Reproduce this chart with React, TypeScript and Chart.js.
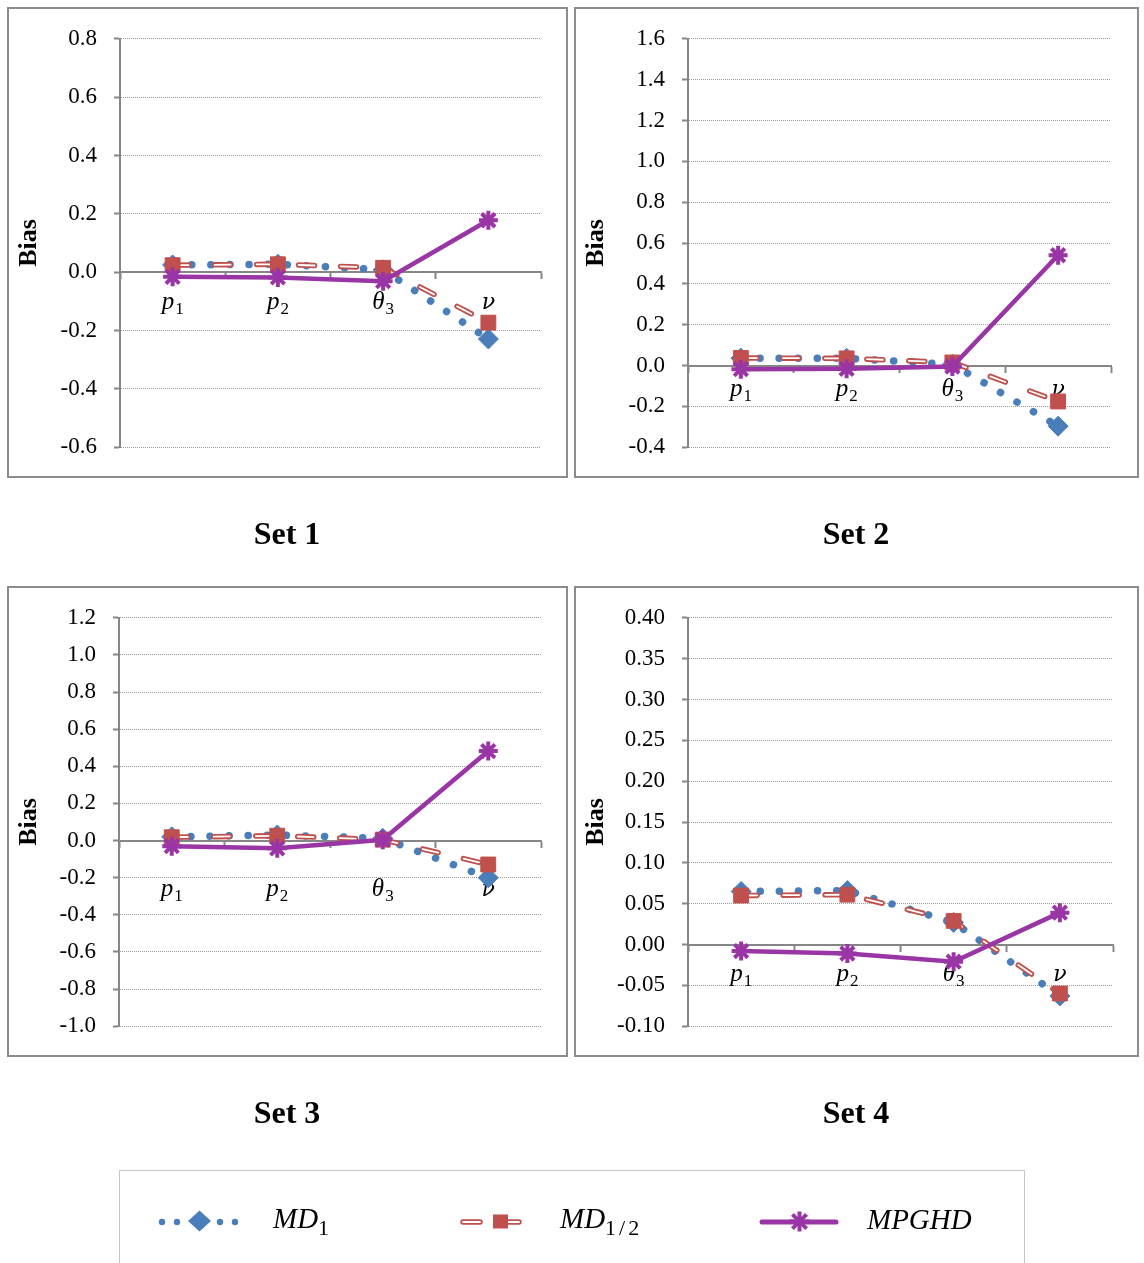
import React, { useEffect, useRef } from 'react';
import { Chart, registerables } from 'chart.js';

Chart.register(...registerables);

// ---------- data ----------
const categoryLabels = ['p1', 'p2', 'θ3', 'ν'];
const categoryLetters = ['p', 'p', 'θ', 'ν'];
const categorySubscripts = ['1', '2', '3', ''];

const setTitles = ['Set 1', 'Set 2', 'Set 3', 'Set 4'];

const set1MD1 = [0.025, 0.027, 0.008, -0.229];
const set1MDHalf = [0.024, 0.027, 0.015, -0.173];
const set1MPGHD = [-0.016, -0.018, -0.031, 0.178];

const set2MD1 = [0.036, 0.035, 0.006, -0.297];
const set2MDHalf = [0.037, 0.035, 0.015, -0.176];
const set2MPGHD = [-0.018, -0.016, -0.005, 0.54];

const set3MD1 = [0.02, 0.03, 0.012, -0.2];
const set3MDHalf = [0.018, 0.026, 0.005, -0.129];
const set3MPGHD = [-0.03, -0.042, 0.004, 0.482];

const set4MD1 = [0.065, 0.066, 0.027, -0.063];
const set4MDHalf = [0.06, 0.061, 0.029, -0.06];
const set4MPGHD = [-0.008, -0.011, -0.021, 0.039];

const yMins = [-0.6, -0.4, -1.0, -0.1];
const yMaxs = [0.8, 1.6, 1.2, 0.4];
const ySteps = [0.2, 0.2, 0.2, 0.05];
const yDecimals = [1, 1, 1, 2];

const allMD1 = [set1MD1, set2MD1, set3MD1, set4MD1];
const allMDHalf = [set1MDHalf, set2MDHalf, set3MDHalf, set4MDHalf];
const allMPGHD = [set1MPGHD, set2MPGHD, set3MPGHD, set4MPGHD];

// ---------- layout / style ----------
const BLUE = '#4A7EBB';
const RED = '#C0504D';
const PURPLE = '#9A35A6';
const AXIS = '#868686';
const GRID = '#9a9a9a';
const SERIF = '"Liberation Serif", "Times New Roman", serif';
const GREEK = '"DejaVu Serif", "Liberation Serif", serif';

const panels = [
  { x: 8, y: 8, w: 560, h: 470, left: 120, right: 541, top: 38, bottom: 448, labelOffset: 37, titleY: 544 },
  { x: 575, y: 8, w: 564, h: 470, left: 688, right: 1111, top: 38, bottom: 448, labelOffset: 30, titleY: 544 },
  { x: 8, y: 587, w: 560, h: 470, left: 119, right: 541, top: 617, bottom: 1027, labelOffset: 55, titleY: 1123 },
  { x: 575, y: 587, w: 564, h: 470, left: 688, right: 1113, top: 617, bottom: 1027, labelOffset: 36, titleY: 1123 },
];

function makeCategoryPlugin(offset: number) {
  return {
    id: 'categoryLabels',
    beforeDatasetsDraw(chart: any) {
      const { ctx } = chart;
      const xs = chart.scales.x;
      const ys = chart.scales.y;
      const base = ys.getPixelForValue(0) + offset;
      ctx.save();
      ctx.fillStyle = '#000';
      ctx.textBaseline = 'alphabetic';
      ctx.textAlign = 'left';
      categoryLetters.forEach((letter, i) => {
        const x = xs.getPixelForValue(i);
        const sub = categorySubscripts[i];
        const mainFont = letter === 'ν' ? `italic 22px ${GREEK}` : `italic 25px ${SERIF}`;
        ctx.font = mainFont;
        const w1 = ctx.measureText(letter).width;
        ctx.font = `17px ${SERIF}`;
        const w2 = sub ? ctx.measureText(sub).width + 1 : 0;
        const start = x - (w1 + w2) / 2;
        ctx.font = mainFont;
        ctx.fillText(letter, start, base);
        if (sub) {
          ctx.font = `17px ${SERIF}`;
          ctx.fillText(sub, start + w1 + 1, base + 5);
        }
      });
      ctx.restore();
    },
  };
}

function Panel({ idx }: { idx: number }) {
  const ref = useRef<HTMLCanvasElement>(null);
  const p = panels[idx];
  useEffect(() => {
    const canvas = ref.current;
    if (!canvas) return;
    const yAxisWidth = p.left - p.x;
    const dec = yDecimals[idx];
    const chart = new Chart(canvas, {
      type: 'line',
      data: {
        labels: categoryLabels,
        datasets: [
          {
            label: 'MPGHD',
            data: allMPGHD[idx],
            borderColor: PURPLE,
            backgroundColor: PURPLE,
            borderWidth: 4.5,
            tension: 0,
            pointStyle: 'star',
            pointRadius: 9.5,
            pointBorderWidth: 4,
            pointBorderColor: PURPLE,
            pointBackgroundColor: PURPLE,
          },
          {
            label: 'MD1/2 markers',
            data: allMDHalf[idx],
            showLine: false,
            pointStyle: 'rect',
            pointRadius: 10.5,
            pointBorderWidth: 1,
            pointBorderColor: RED,
            pointBackgroundColor: RED,
          },
          {
            label: 'MD1/2 inner',
            data: allMDHalf[idx],
            borderColor: '#ffffff',
            borderWidth: 1.8,
            borderDash: [16, 26],
            borderCapStyle: 'round',
            tension: 0,
            pointRadius: 0,
          },
          {
            label: 'MD1/2',
            data: allMDHalf[idx],
            borderColor: RED,
            borderWidth: 5.5,
            borderDash: [16, 26],
            borderCapStyle: 'round',
            tension: 0,
            pointRadius: 0,
          },
          {
            label: 'MD1',
            data: allMD1[idx],
            borderColor: BLUE,
            backgroundColor: BLUE,
            borderWidth: 7.5,
            borderDash: [0.1, 19],
            borderCapStyle: 'round',
            tension: 0,
            pointStyle: 'rectRot',
            pointRadius: 10,
            pointBorderWidth: 1,
            pointBorderColor: BLUE,
            pointBackgroundColor: BLUE,
          },
        ],
      } as any,
      options: {
        animation: false,
        responsive: false,
        devicePixelRatio: 1,
        layout: {
          padding: {
            left: 0,
            top: p.top - p.y,
            right: p.x + p.w - p.right,
            bottom: p.y + p.h - p.bottom,
          },
        },
        plugins: {
          legend: { display: false },
          tooltip: { enabled: false },
        },
        scales: {
          x: {
            type: 'category',
            position: { y: 0 } as any,
            offset: true,
            grid: {
              offset: true,
              drawOnChartArea: false,
              drawTicks: true,
              tickLength: 6,
              tickColor: AXIS,
              tickWidth: 2,
              tickBorderDash: [],
            } as any,
            border: { display: true, color: AXIS, width: 2 },
            ticks: { display: false },
          },
          y: {
            type: 'linear',
            position: 'left',
            min: yMins[idx],
            max: yMaxs[idx],
            ticks: {
              stepSize: ySteps[idx],
              callback: (v: any) => Number(v).toFixed(dec),
              font: { family: SERIF, size: 23 },
              color: '#000',
              padding: 17,
            },
            grid: {
              color: GRID,
              lineWidth: 1,
              drawTicks: true,
              tickLength: 6,
              tickColor: AXIS,
              tickWidth: 2,
              tickBorderDash: [],
            } as any,
            border: { display: true, color: AXIS, width: 2, dash: [1, 1] },
            title: {
              display: true,
              text: 'Bias',
              color: '#000',
              font: { family: SERIF, size: 26, weight: 'bold' },
              padding: { top: 6, bottom: 0 },
            },
            afterFit: (scale: any) => {
              scale.width = yAxisWidth;
            },
          },
        },
      } as any,
      plugins: [makeCategoryPlugin(p.labelOffset)],
    });
    return () => chart.destroy();
  }, [idx]);
  return (
    <canvas
      ref={ref}
      width={p.w}
      height={p.h}
      style={{ position: 'absolute', left: p.x, top: p.y, width: p.w, height: p.h }}
    />
  );
}

function Overlay() {
  return (
    <svg
      width={1144}
      height={1263}
      style={{ position: 'absolute', left: 0, top: 0, pointerEvents: 'none' }}
    >
      {panels.map((p, i) => (
        <rect key={'b' + i} x={p.x} y={p.y} width={p.w - 1} height={p.h - 1} fill="none" stroke="#8c8c8c" strokeWidth={2} />
      ))}
      {panels.map((p, i) => (
        <text
          key={'t' + i}
          x={p.x + p.w / 2 - 1}
          y={p.titleY}
          textAnchor="middle"
          fontFamily={SERIF}
          fontWeight="bold"
          fontSize={32}
          fill="#000"
        >
          {setTitles[i]}
        </text>
      ))}
      {/* legend frame */}
      <rect x={119.5} y={1170.5} width={905} height={120} fill="none" stroke="#8a8a8a" strokeWidth={1} strokeDasharray="1 1" />
      {/* MD1 symbol */}
      {[162, 177, 220, 235].map((cx) => (
        <circle key={cx} cx={cx} cy={1222} r={3.2} fill={BLUE} />
      ))}
      <polygon points="188,1221 199.5,1210.5 211,1221 199.5,1231.5" fill={BLUE} />
      <text x={273} y={1228} fontFamily={SERIF} fontStyle="italic" fontSize={29} fill="#000">
        MD
        <tspan fontStyle="normal" fontSize={22} dy={7}>1</tspan>
      </text>
      {/* MD1/2 symbol */}
      <line x1={463} y1={1222} x2={480} y2={1222} stroke={RED} strokeWidth={5.5} strokeLinecap="round" />
      <line x1={463} y1={1222} x2={480} y2={1222} stroke="#fff" strokeWidth={1.8} strokeLinecap="round" />
      <line x1={507} y1={1222} x2={519} y2={1222} stroke={RED} strokeWidth={5.5} strokeLinecap="round" />
      <line x1={507} y1={1222} x2={519} y2={1222} stroke="#fff" strokeWidth={1.8} strokeLinecap="round" />
      <rect x={493} y={1214.5} width={15} height={14} fill={RED} />
      <text x={560} y={1228} fontFamily={SERIF} fontStyle="italic" fontSize={29} fill="#000">
        MD
        <tspan fontStyle="normal" fontSize={22} dy={7} letterSpacing={3}>1/2</tspan>
      </text>
      {/* MPGHD symbol */}
      <line x1={762} y1={1222} x2={836} y2={1222} stroke={PURPLE} strokeWidth={5} strokeLinecap="round" />
      <g stroke={PURPLE} strokeWidth={4}>
        <line x1={789.5} y1={1221.5} x2={809.5} y2={1221.5} />
        <line x1={799.5} y1={1211.5} x2={799.5} y2={1231.5} />
        <line x1={792.4} y1={1214.4} x2={806.6} y2={1228.6} />
        <line x1={792.4} y1={1228.6} x2={806.6} y2={1214.4} />
      </g>
      <text x={867} y={1229} fontFamily={SERIF} fontStyle="italic" fontSize={29} fill="#000">
        MPGHD
      </text>
    </svg>
  );
}

export default function App() {
  return (
    <div
      style={{
        position: 'absolute',
        left: 0,
        top: 0,
        width: 1144,
        height: 1263,
        overflow: 'hidden',
        background: '#fff',
      }}
    >
      {panels.map((_, i) => (
        <Panel key={i} idx={i} />
      ))}
      <Overlay />
    </div>
  );
}
